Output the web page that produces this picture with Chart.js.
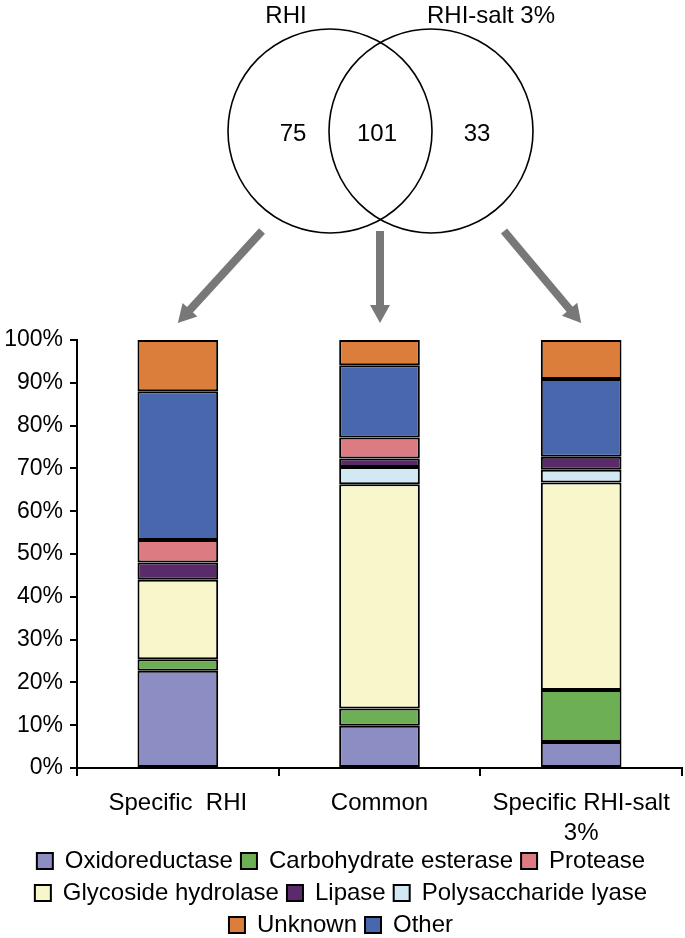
<!DOCTYPE html>
<html lang="en">
<head>
  <meta charset="UTF-8" />
  <title>Enzyme classes - RHI vs RHI-salt 3%</title>
  <script src="https://cdn.jsdelivr.net/npm/chart.js"></script>
  <style>
    html, body { margin: 0; background: #fff; overflow: hidden; }
    #wrap { width: 685px; height: 938px; }
  </style>
</head>
<body>
<div id="wrap"><canvas id="chart" width="685" height="938"></canvas></div>
<script>
// categories (x axis)
const groups = ['Specific  RHI', 'Common', ['Specific RHI-salt', '3%']];

// Venn diagram
const vennSets = ['RHI', 'RHI-salt 3%'];
const vennCounts = [75, 101, 33];

// percentages per group, stacked bottom to top
const oxidoreductase   = [22.7, 9.9, 6.1];
const carbEsterase     = [2.7, 4.0, 12.1];
const glycosideHydro   = [18.6, 52.4, 48.5];
const polysacLyase     = [0, 4.0, 3.0];
const lipase           = [4.0, 2.0, 3.0];
const protease         = [5.3, 4.9, 0];
const other            = [34.7, 16.9, 18.2];
const unknown          = [12.0, 5.9, 9.1];

const legendOrder = ['Oxidoreductase', 'Carbohydrate esterase', 'Protease',
  'Glycoside hydrolase', 'Lipase', 'Polysaccharide lyase', 'Unknown', 'Other'];

const FONT = "'Liberation Sans', Arial, Helvetica, sans-serif";

function ds(label, data, color) {
  return {
    label, data,
    backgroundColor: color,
    borderColor: '#000',
    borderWidth: 2,
    borderSkipped: false,
    inflateAmount: 0,
    barPercentage: 0.4,
    categoryPercentage: 1.0
  };
}

// venn + arrows drawn above the bars
const vennPlugin = {
  id: 'venn',
  afterDraw(chart) {
    const c = chart.ctx;
    const xs = chart.scales.x;
    c.save();
    c.strokeStyle = '#000';
    c.lineWidth = 1.6;
    c.beginPath(); c.arc(330, 131, 102, 0, Math.PI * 2); c.stroke();
    c.beginPath(); c.arc(431, 131, 102, 0, Math.PI * 2); c.stroke();

    c.fillStyle = '#000';
    c.font = '24px ' + FONT;
    c.textAlign = 'center';
    c.textBaseline = 'middle';
    c.fillText(vennSets[0], 286, 16);
    c.fillText(vennSets[1], 491, 16);
    c.fillText(String(vennCounts[0]), 293, 134);
    c.fillText(String(vennCounts[1]), 377, 134);
    c.fillText(String(vennCounts[2]), 477, 134);

    // arrows from the venn down to each bar
    const starts = [262, 380, 504];
    const y0 = 231, y1 = chart.chartArea.top - 17;
    c.strokeStyle = '#787878';
    c.fillStyle = '#787878';
    c.lineWidth = 8;
    starts.forEach((sx, i) => {
      const ex = i === 1 ? sx : xs.getPixelForValue(i);
      const ang = Math.atan2(y1 - y0, ex - sx);
      const head = 18;
      const bx = ex - Math.cos(ang) * head, by = y1 - Math.sin(ang) * head;
      c.beginPath(); c.moveTo(sx, y0); c.lineTo(bx + Math.cos(ang) * 2, by + Math.sin(ang) * 2); c.stroke();
      c.beginPath();
      c.moveTo(ex, y1);
      c.lineTo(bx + Math.sin(ang) * 10, by - Math.cos(ang) * 10);
      c.lineTo(bx - Math.sin(ang) * 10, by + Math.cos(ang) * 10);
      c.closePath(); c.fill();
    });
    c.restore();
  }
};

new Chart(document.getElementById('chart'), {
  type: 'bar',
  data: {
    labels: groups,
    datasets: [
      ds('Oxidoreductase', oxidoreductase, '#8c8dc2'),
      ds('Carbohydrate esterase', carbEsterase, '#6caf55'),
      ds('Glycoside hydrolase', glycosideHydro, '#f8f7cb'),
      ds('Polysaccharide lyase', polysacLyase, '#d2e8f2'),
      ds('Lipase', lipase, '#5b2a6b'),
      ds('Protease', protease, '#dd7b82'),
      ds('Other', other, '#4867ad'),
      ds('Unknown', unknown, '#db7e3b')
    ]
  },
  options: {
    responsive: false,
    animation: false,
    layout: { padding: { top: 340, left: 0, right: 3, bottom: -9 } },
    plugins: {
      tooltip: { enabled: false },
      legend: {
        position: 'bottom',
        labels: {
          font: { family: FONT, size: 24 },
          color: '#000',
          boxWidth: 16,
          boxHeight: 16,
          padding: 8,
          sort: (a, b) => legendOrder.indexOf(a.text) - legendOrder.indexOf(b.text)
        }
      }
    },
    scales: {
      x: {
        stacked: true,
        afterFit: s => { s.height = 73; },
        border: { color: '#000', width: 2 },
        grid: { drawOnChartArea: false, color: '#000', lineWidth: 2, tickLength: 8, offset: true },
        ticks: { color: '#000', font: { family: FONT, size: 24, lineHeight: 1.25 }, maxRotation: 0, padding: 12 }
      },
      y: {
        stacked: true,
        min: 0, max: 100,
        afterFit: s => { s.width = 77; },
        border: { color: '#000', width: 2 },
        grid: { drawOnChartArea: false, color: '#000', lineWidth: 2, tickLength: 7 },
        ticks: {
          stepSize: 10,
          color: '#000',
          font: { family: FONT, size: 23 },
          padding: 7,
          callback: v => v + '%'
        }
      }
    }
  },
  plugins: [vennPlugin]
});
</script>
</body>
</html>
